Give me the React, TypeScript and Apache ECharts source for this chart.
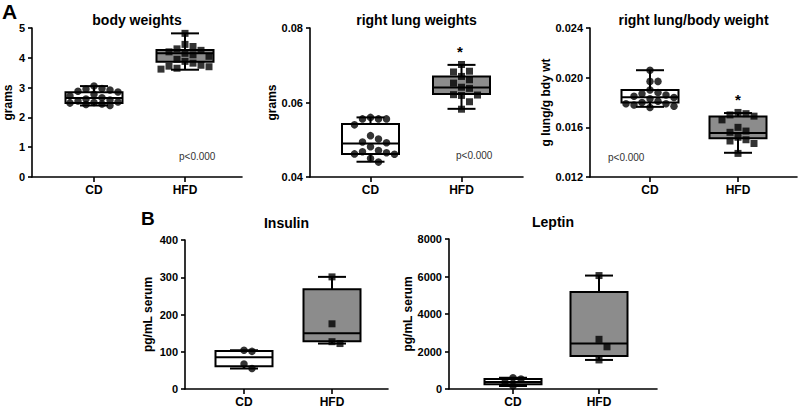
import React, { useEffect, useRef } from "react";
import * as echarts from "echarts";

const FONT = "'Liberation Sans', Arial, Helvetica, sans-serif";
const groups = ["CD", "HFD"];

// Panel A: body weights (grams)
const bodyCD = [3.05, 2.97, 2.95, 2.92, 2.88, 2.85, 2.78, 2.72, 2.66, 2.62, 2.58, 2.55, 2.52, 2.5, 2.48, 2.45, 2.43, 2.4];
const bodyHFD = [4.82, 4.45, 4.38, 4.3, 4.25, 4.2, 4.15, 4.1, 4.05, 3.95, 3.88, 3.82, 3.75, 3.72, 3.7, 3.65, 3.62];
const bodyBoxCD = [2.4, 2.48, 2.65, 2.84, 3.05];
const bodyBoxHFD = [3.6, 3.87, 4.15, 4.26, 4.82];

// right lung weights (grams)
const lungCD = [0.056, 0.0556, 0.0556, 0.0556, 0.054, 0.0511, 0.0502, 0.0494, 0.0492, 0.0481, 0.0471, 0.0468, 0.0465, 0.0462, 0.0461, 0.045, 0.044];
const lungHFD = [0.0702, 0.0684, 0.0682, 0.067, 0.0661, 0.0652, 0.0641, 0.0638, 0.0621, 0.062, 0.0619, 0.0602, 0.0582];
const lungBoxCD = [0.0441, 0.0462, 0.049, 0.0542, 0.056];
const lungBoxHFD = [0.0583, 0.0623, 0.064, 0.067, 0.0701];

// right lung / body weight
const ratioCD = [0.0206, 0.0197, 0.0197, 0.019, 0.0188, 0.0187, 0.0186, 0.0185, 0.0184, 0.0183, 0.0181, 0.018, 0.0179, 0.0179, 0.0178, 0.0177, 0.0176];
const ratioHFD = [0.0172, 0.0171, 0.017, 0.0169, 0.0166, 0.016, 0.0157, 0.0156, 0.0152, 0.015, 0.0149, 0.0147, 0.0139];
const ratioBoxCD = [0.01765, 0.018, 0.01843, 0.019, 0.0206];
const ratioBoxHFD = [0.01395, 0.01512, 0.01555, 0.01688, 0.01715];

// Panel B: insulin & leptin (pg/mL serum)
const insulinCD = [104, 101, 67, 55];
const insulinHFD = [301, 175, 127, 122];
const insulinBoxCD = [55, 61, 85, 102, 104];
const insulinBoxHFD = [122, 128, 150, 268, 301];

const leptinCD = [600, 530, 360, 160];
const leptinHFD = [6050, 2650, 2250, 1550];
const leptinBoxCD = [160, 250, 370, 540, 600];
const leptinBoxHFD = [1550, 1760, 2430, 5180, 6050];

const yTicks = {
  body: [0, 5, 1],
  lung: [0.04, 0.08, 0.02],
  ratio: [0.012, 0.024, 0.004],
  insulin: [0, 400, 100],
  leptin: [0, 8000, 2000],
};

// layout (pixels)
const panels = [
  { title: "body weights", titleTop: 13, yName: "grams", left: 32, top: 28, right: 242, bottom: 177, cd: 94, hfd: 185, ticks: yTicks.body, dec: 0, nameGap: 18, cdV: bodyCD, hfdV: bodyHFD, cdB: bodyBoxCD, hfdB: bodyBoxHFD },
  { title: "right lung weights", titleTop: 13, yName: "grams", left: 310, top: 28, right: 523, bottom: 177, cd: 370.5, hfd: 461.5, ticks: yTicks.lung, dec: 2, nameGap: 31, cdV: lungCD, hfdV: lungHFD, cdB: lungBoxCD, hfdB: lungBoxHFD },
  { title: "right lung/body weight", titleTop: 13, yName: "g lung/g bdy wt", left: 590, top: 28, right: 797, bottom: 177, cd: 650, hfd: 738, ticks: yTicks.ratio, dec: 3, nameGap: 37, cdV: ratioCD, hfdV: ratioHFD, cdB: ratioBoxCD, hfdB: ratioBoxHFD },
  { title: "Insulin", titleTop: 216, yName: "pg/mL serum", left: 185, top: 240, right: 388, bottom: 389, cd: 244, hfd: 332, ticks: yTicks.insulin, dec: 0, nameGap: 31, cdV: insulinCD, hfdV: insulinHFD, cdB: insulinBoxCD, hfdB: insulinBoxHFD },
  { title: "Leptin", titleTop: 215, yName: "pg/mL serum", left: 449, top: 239, right: 657, bottom: 389, cd: 513, hfd: 599, ticks: yTicks.leptin, dec: 0, nameGap: 26, cdV: leptinCD, hfdV: leptinHFD, cdB: leptinBoxCD, hfdB: leptinBoxHFD },
];

// simple beeswarm layout so that the dots don't overlap (returns x offsets in axis units)
function swarm(vals: number[], p: any): number[] {
  const ppv = (p.bottom - p.top) / (p.ticks[1] - p.ticks[0]);
  const unit = p.hfd - p.cd;
  const d = 8;
  const placed: { x: number; y: number }[] = [];
  return vals.map((v) => {
    const y = v * ppv;
    let best = 0;
    let bestScore = -1;
    for (let k = 0; k < 7; k++) {
      const c = k === 0 ? 0 : (k % 2 ? 1 : -1) * Math.ceil(k / 2) * d;
      const minD = placed.reduce((m, q) => Math.min(m, Math.hypot(q.x - c, q.y - y)), Infinity);
      if (minD >= d) {
        best = c;
        break;
      }
      if (minD > bestScore) {
        bestScore = minD;
        best = c;
      }
    }
    placed.push({ x: best, y });
    return best / unit;
  });
}

const AX = { color: "#000", width: 1.6 };

function buildOption() {
  const grid: any[] = [];
  const xAxis: any[] = [];
  const yAxis: any[] = [];
  const series: any[] = [];
  const title: any[] = [];

  panels.forEach((p, i) => {
    const unit = p.hfd - p.cd;
    grid.push({ left: p.left, top: p.top, width: p.right - p.left, height: p.bottom - p.top, containLabel: false, outerBoundsMode: "none" });
    xAxis.push({
      gridIndex: i,
      type: "value",
      min: 1 - (p.cd - p.left) / unit,
      max: 2 + (p.right - p.hfd) / unit,
      splitLine: { show: false },
      axisLine: { show: true, onZero: false, lineStyle: AX },
      axisTick: { show: true, customValues: [1, 2], length: 5, lineStyle: AX },
      axisLabel: {
        show: true,
        customValues: [1, 2],
        formatter: (v: number) => groups[Math.round(v) - 1] ?? "",
        margin: 7,
        fontSize: 12,
        lineHeight: 12,
        fontWeight: "bold",
        color: "#000",
        fontFamily: FONT,
      },
    });
    yAxis.push({
      gridIndex: i,
      type: "value",
      min: p.ticks[0],
      max: p.ticks[1],
      interval: p.ticks[2],
      name: p.yName,
      nameLocation: "middle",
      nameGap: p.nameGap,
      nameTextStyle: { fontSize: 12, fontWeight: "bold", color: "#000", fontFamily: FONT },
      splitLine: { show: false },
      axisLine: { show: true, onZero: false, lineStyle: AX },
      axisTick: { show: true, length: 4, lineStyle: AX },
      axisLabel: {
        margin: 7,
        fontSize: 11,
        fontWeight: "bold",
        color: "#000",
        fontFamily: FONT,
        formatter: (v: number) => v.toFixed(p.dec),
      },
    });
    title.push({
      text: p.title,
      left: (p.left + p.right) / 2,
      top: p.titleTop,
      textAlign: "center",
      padding: 0,
      textStyle: { fontSize: 14, fontWeight: "bold", color: "#000", fontFamily: FONT },
    });

    series.push({
      type: "custom",
      xAxisIndex: i,
      yAxisIndex: i,
      clip: false,
      z: 2,
      data: [
        [1, ...p.cdB],
        [2, ...p.hfdB],
      ],
      renderItem: (params: any, api: any) => {
        const x = api.value(0);
        const pMin = api.coord([x, api.value(1)]);
        const cx = pMin[0];
        const yMin = pMin[1];
        const yQ1 = api.coord([x, api.value(2)])[1];
        const yMed = api.coord([x, api.value(3)])[1];
        const yQ3 = api.coord([x, api.value(4)])[1];
        const yMax = api.coord([x, api.value(5)])[1];
        const hw = 28.5;
        const cw = 14;
        const fill = x === 1 ? "#ffffff" : "#8c8c8c";
        const ls = { stroke: "#000", lineWidth: 2 };
        return {
          type: "group",
          children: [
            { type: "line", shape: { x1: cx, y1: yMax, x2: cx, y2: yQ3 }, style: ls },
            { type: "line", shape: { x1: cx, y1: yQ1, x2: cx, y2: yMin }, style: ls },
            { type: "line", shape: { x1: cx - cw, y1: yMax, x2: cx + cw, y2: yMax }, style: ls },
            { type: "line", shape: { x1: cx - cw, y1: yMin, x2: cx + cw, y2: yMin }, style: ls },
            { type: "rect", shape: { x: cx - hw, y: yQ3, width: 2 * hw, height: yQ1 - yQ3 }, style: { fill, stroke: "#000", lineWidth: 2 } },
            { type: "line", shape: { x1: cx - hw, y1: yMed, x2: cx + hw, y2: yMed }, style: ls },
          ],
        };
      },
    });

    const cdOff = swarm(p.cdV, p);
    const hfdOff = swarm(p.hfdV, p);
    series.push({
      type: "scatter",
      xAxisIndex: i,
      yAxisIndex: i,
      z: 3,
      symbol: "circle",
      symbolSize: 7.5,
      itemStyle: { color: "#000" },
      data: p.cdV.map((v, k) => [1 + cdOff[k], v]),
    });
    series.push({
      type: "scatter",
      xAxisIndex: i,
      yAxisIndex: i,
      z: 3,
      symbol: "rect",
      symbolSize: 7,
      itemStyle: { color: "#000" },
      data: p.hfdV.map((v, k) => [2 + hfdOff[k], v]),
    });
  });

  const plain = (text: string, left: number, top: number, size: number, weight: string, color = "#000") => ({
    text,
    left,
    top,
    padding: 0,
    textStyle: { fontSize: size, fontWeight: weight, color, fontFamily: FONT },
  });

  title.push(plain("A", 2, 1, 21, "bold"));
  title.push(plain("B", 141, 209, 19, "bold"));
  title.push(plain("p<0.000", 179, 151, 10, "normal", "#333"));
  title.push(plain("p<0.000", 456, 150, 10, "normal", "#333"));
  title.push(plain("p<0.000", 608, 152, 10, "normal", "#333"));
  title.push({ ...plain("*", 460, 44, 15, "bold"), textAlign: "center" });
  title.push({ ...plain("*", 738, 92, 15, "bold"), textAlign: "center" });

  return {
    animation: false,
    backgroundColor: "#ffffff",
    title,
    grid,
    xAxis,
    yAxis,
    series,
  };
}

export default function App() {
  const ref = useRef<HTMLDivElement>(null);
  useEffect(() => {
    document.body.style.margin = "0";
    if (!ref.current) return;
    const chart = echarts.init(ref.current, undefined, { renderer: "svg" });
    chart.setOption(buildOption() as any);
    return () => chart.dispose();
  }, []);
  return <div ref={ref} style={{ width: 800, height: 409 }} />;
}
